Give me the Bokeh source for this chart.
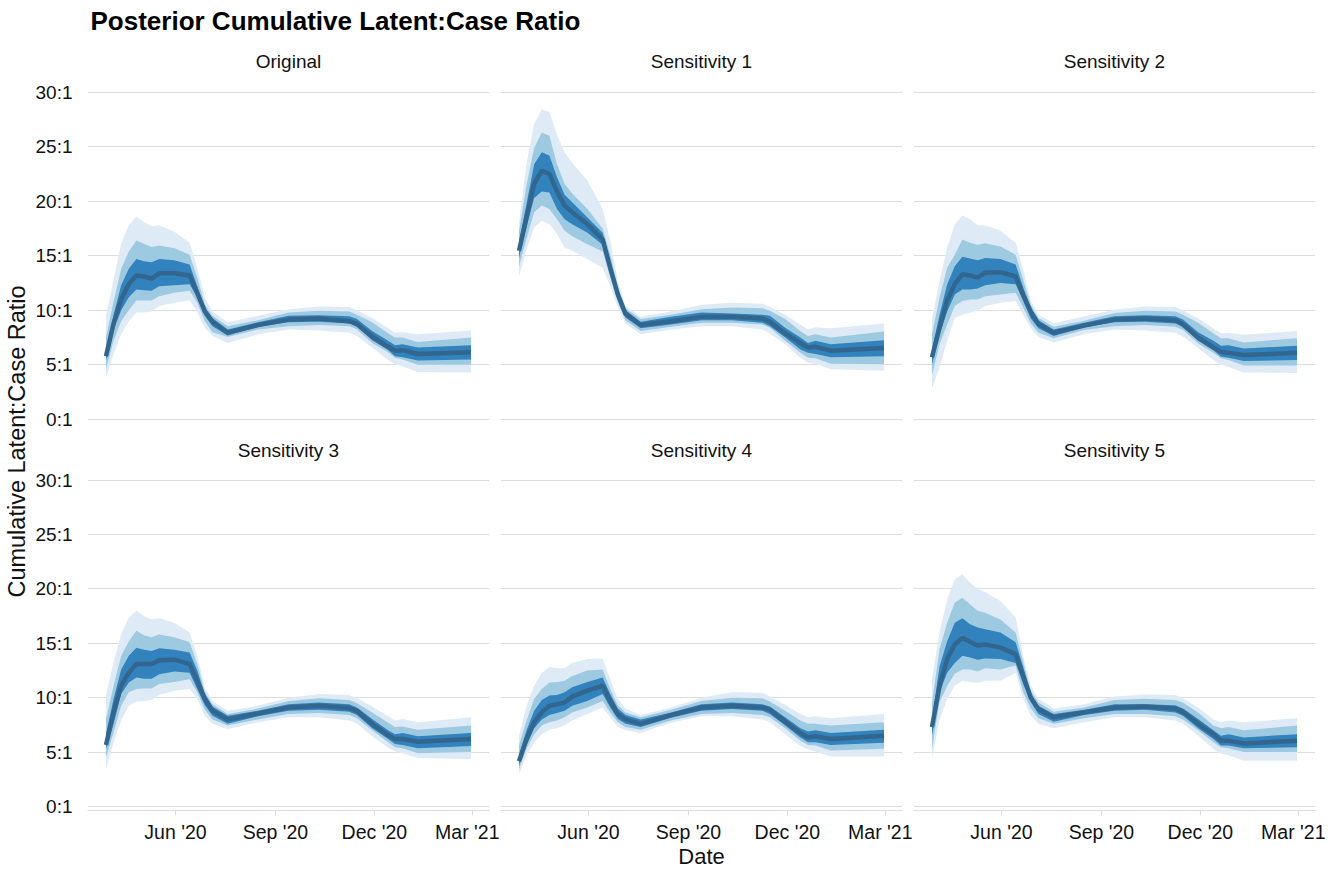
import numpy as np
import pandas as pd
from bokeh.plotting import figure
from bokeh.layouts import row, column
from bokeh.models import Range1d, FixedTicker, Grid, ColumnDataSource, CustomJSTickFormatter
from bokeh.core.properties import value
from bokeh.embed import file_html
from bokeh.resources import INLINE

FONT = "Liberation Sans"

# ---------------- data ----------------
title_text = "Posterior Cumulative Latent:Case Ratio"
y_title = "Cumulative Latent:Case Ratio"
x_title = "Date"
panel_titles = ["Original", "Sensitivity 1", "Sensitivity 2",
                "Sensitivity 3", "Sensitivity 4", "Sensitivity 5"]

dates = ["2020-03-29", "2020-04-05", "2020-04-12", "2020-04-19", "2020-04-26",
         "2020-05-03", "2020-05-10", "2020-05-17", "2020-05-31", "2020-06-14",
         "2020-06-21", "2020-06-28", "2020-07-05", "2020-07-19", "2020-08-16",
         "2020-09-13", "2020-10-11", "2020-11-08", "2020-11-15", "2020-11-29",
         "2020-12-13", "2020-12-20", "2020-12-27", "2021-01-10", "2021-02-28"]

x_ticks = ["2020-06-01", "2020-09-01", "2020-12-01", "2021-03-01"]
x_tick_labels = ["Jun '20", "Sep '20", "Dec '20", "Mar '21"]
y_ticks = [0, 5, 10, 15, 20, 25, 30]
y_tick_labels = ["0:1", "5:1", "10:1", "15:1", "20:1", "25:1", "30:1"]

# Original
orig_med    = [5.8, 8.8, 11.0, 12.4, 13.2, 13.1, 12.9, 13.4, 13.4, 13.2, 11.6, 9.9, 8.95, 7.95, 8.65, 9.15, 9.25, 9.0, 8.75, 7.6, 6.7, 6.3, 6.35, 6.0, 6.15]
orig_in_lo  = [5.4, 8.2, 10.0, 11.2, 11.9, 11.85, 11.8, 12.2, 12.3, 12.4, 11.2, 9.5, 8.55, 7.7, 8.5, 8.9, 8.95, 8.8, 8.5, 7.25, 6.4, 5.8, 5.7, 5.4, 5.5]
orig_in_hi  = [6.3, 9.6, 12.3, 13.8, 14.7, 14.5, 14.4, 14.7, 14.6, 14.2, 12.2, 10.2, 9.3, 8.25, 8.9, 9.5, 9.55, 9.45, 9.2, 8.1, 7.25, 6.8, 6.9, 6.6, 6.8]
orig_mid_lo = [4.6, 7.2, 9.0, 10.0, 10.9, 10.9, 10.9, 11.3, 11.6, 11.8, 10.7, 9.0, 8.0, 7.55, 8.25, 8.55, 8.65, 8.55, 8.25, 7.0, 6.2, 5.65, 5.5, 5.0, 5.0]
orig_mid_hi = [7.5, 10.8, 13.8, 15.4, 16.4, 16.1, 15.8, 15.95, 15.7, 15.1, 13.0, 10.55, 9.5, 8.55, 9.1, 9.8, 9.95, 9.9, 9.6, 8.9, 7.95, 7.5, 7.5, 7.1, 7.5]
orig_lt_lo  = [3.8, 6.0, 7.8, 9.0, 9.8, 9.8, 9.9, 10.4, 10.7, 10.9, 9.9, 8.4, 7.65, 7.0, 7.8, 8.25, 8.15, 7.95, 7.65, 6.6, 5.5, 5.05, 4.85, 4.35, 4.3]
orig_lt_hi  = [9.5, 12.8, 16.1, 17.8, 18.6, 18.1, 17.7, 17.8, 17.2, 16.2, 13.9, 11.2, 9.9, 8.9, 9.5, 10.1, 10.35, 10.3, 10.0, 9.3, 8.4, 7.95, 8.0, 7.8, 8.15]

# Sensitivity 1
s1_med    = [15.45, 18.5, 21.6, 22.8, 22.5, 20.9, 19.6, 19.0, 17.9, 16.5, 13.9, 11.45, 9.7, 8.65, 9.0, 9.4, 9.4, 9.25, 8.95, 7.9, 7.0, 6.6, 6.65, 6.3, 6.55]
s1_in_lo  = [14.8, 17.7, 20.3, 20.9, 20.8, 19.3, 18.35, 17.9, 17.1, 16.0, 13.45, 11.0, 9.35, 8.35, 8.7, 9.1, 9.1, 8.85, 8.55, 7.5, 6.4, 6.1, 6.0, 5.7, 5.8]
s1_in_hi  = [16.3, 19.8, 23.4, 24.5, 24.2, 22.2, 20.6, 19.9, 18.5, 17.1, 14.5, 11.9, 10.0, 8.95, 9.4, 9.8, 9.7, 9.6, 9.5, 8.4, 7.5, 7.0, 7.2, 6.9, 7.25]
s1_mid_lo = [14.0, 16.6, 19.0, 19.6, 19.3, 18.35, 17.3, 16.8, 16.05, 15.4, 13.0, 10.7, 9.1, 8.1, 8.5, 8.85, 8.85, 8.7, 8.4, 7.2, 6.1, 5.65, 5.6, 5.1, 5.05]
s1_mid_hi = [17.2, 21.5, 24.9, 26.3, 26.0, 23.4, 21.6, 20.7, 19.3, 17.5, 15.1, 12.2, 10.2, 9.2, 9.6, 10.1, 10.25, 10.2, 9.95, 9.2, 8.1, 7.65, 7.8, 7.5, 8.05]
s1_lt_lo  = [13.1, 15.6, 17.6, 18.2, 17.9, 17.0, 15.75, 15.45, 14.7, 13.9, 12.2, 10.25, 8.8, 7.8, 8.25, 8.55, 8.55, 8.25, 7.85, 6.9, 5.65, 5.2, 5.1, 4.6, 4.45]
s1_lt_hi  = [18.0, 23.5, 27.1, 28.4, 28.2, 26.1, 24.5, 23.5, 21.9, 19.3, 16.4, 12.7, 10.4, 9.4, 9.9, 10.5, 10.7, 10.6, 10.3, 9.6, 8.7, 8.25, 8.45, 8.35, 8.8]

# Sensitivity 2
s2_med    = [5.7, 8.4, 10.9, 12.4, 13.3, 13.2, 13.0, 13.45, 13.5, 13.1, 11.4, 9.85, 8.75, 7.95, 8.6, 9.15, 9.25, 9.1, 8.7, 7.5, 6.6, 6.2, 6.1, 5.9, 6.1]
s2_in_lo  = [5.0, 7.8, 9.9, 11.45, 11.9, 11.9, 12.0, 12.3, 12.5, 12.4, 10.85, 9.25, 8.35, 7.65, 8.45, 8.9, 8.95, 8.8, 8.5, 7.2, 6.35, 5.75, 5.65, 5.35, 5.45]
s2_in_hi  = [6.4, 9.6, 12.4, 14.05, 14.9, 14.75, 14.6, 14.8, 14.7, 14.2, 12.1, 10.2, 9.1, 8.25, 8.85, 9.45, 9.55, 9.45, 9.15, 8.0, 7.2, 6.75, 6.8, 6.5, 6.75]
s2_mid_lo = [4.0, 6.9, 8.7, 10.4, 10.85, 11.0, 11.0, 11.3, 11.45, 11.6, 10.25, 8.8, 7.95, 7.45, 8.2, 8.55, 8.65, 8.5, 8.2, 6.95, 6.1, 5.6, 5.45, 4.95, 4.95]
s2_mid_hi = [7.8, 11.2, 13.9, 15.1, 16.5, 16.2, 16.0, 16.15, 15.85, 15.1, 12.8, 10.5, 9.3, 8.5, 9.05, 9.75, 9.95, 9.9, 9.6, 8.85, 7.9, 7.45, 7.45, 7.05, 7.45]
s2_lt_lo  = [2.8, 4.75, 7.2, 9.3, 9.6, 9.8, 9.95, 10.4, 10.7, 10.85, 9.6, 8.35, 7.55, 7.05, 7.8, 8.25, 8.15, 7.95, 7.6, 6.55, 5.45, 5.0, 4.8, 4.3, 4.25]
s2_lt_hi  = [9.2, 12.7, 15.75, 17.9, 18.7, 18.35, 17.8, 17.8, 17.3, 16.2, 13.75, 10.85, 9.6, 8.8, 9.45, 10.05, 10.35, 10.3, 10.0, 9.25, 8.35, 7.9, 7.95, 7.75, 8.1]

# Sensitivity 3
s3_med    = [5.65, 8.65, 11.1, 12.3, 13.1, 13.1, 13.1, 13.45, 13.5, 13.1, 11.55, 9.9, 8.8, 8.0, 8.55, 9.1, 9.25, 9.05, 8.8, 7.6, 6.6, 6.2, 6.2, 5.95, 6.2]
s3_in_lo  = [5.3, 7.6, 10.35, 11.4, 11.85, 11.75, 11.75, 12.15, 12.4, 12.3, 10.8, 9.3, 8.35, 7.6, 8.3, 8.8, 8.9, 8.7, 8.4, 7.2, 6.25, 5.75, 5.65, 5.35, 5.55]
s3_in_hi  = [6.65, 9.9, 12.6, 13.85, 14.6, 14.4, 14.3, 14.55, 14.4, 14.15, 12.5, 10.35, 9.2, 8.35, 8.8, 9.4, 9.55, 9.4, 9.1, 8.05, 7.05, 6.65, 6.75, 6.45, 6.75]
s3_mid_lo = [4.5, 6.8, 9.25, 10.5, 10.8, 10.85, 10.85, 11.25, 11.45, 11.7, 10.5, 8.9, 8.0, 7.45, 8.0, 8.5, 8.6, 8.4, 8.1, 7.0, 5.95, 5.45, 5.35, 4.9, 5.0]
s3_mid_hi = [8.0, 11.1, 13.85, 15.2, 16.15, 15.75, 15.55, 15.8, 15.55, 15.1, 13.1, 10.55, 9.4, 8.5, 9.0, 9.7, 9.95, 9.8, 9.5, 8.65, 7.75, 7.3, 7.35, 7.05, 7.45]
s3_lt_lo  = [3.45, 5.9, 7.9, 9.25, 9.65, 9.7, 9.8, 10.25, 10.65, 10.8, 9.9, 8.35, 7.6, 7.1, 7.75, 8.2, 8.2, 7.9, 7.6, 6.45, 5.45, 5.05, 4.9, 4.45, 4.35]
s3_lt_hi  = [10.2, 13.25, 15.85, 17.35, 18.0, 17.5, 17.2, 17.3, 16.9, 16.0, 13.85, 10.95, 9.7, 8.8, 9.25, 10.0, 10.35, 10.25, 9.95, 9.2, 8.35, 7.9, 8.05, 7.75, 8.2]

# Sensitivity 4
s4_med    = [4.15, 6.2, 7.75, 8.65, 9.25, 9.4, 9.55, 10.1, 10.65, 11.1, 9.7, 8.5, 8.0, 7.6, 8.4, 9.1, 9.25, 9.1, 8.9, 7.8, 6.75, 6.35, 6.45, 6.2, 6.5]
s4_in_lo  = [3.75, 5.65, 7.2, 8.0, 8.4, 8.6, 8.8, 9.25, 9.7, 10.35, 9.1, 8.05, 7.6, 7.3, 8.15, 8.8, 8.95, 8.8, 8.5, 7.45, 6.35, 5.9, 5.9, 5.65, 5.85]
s4_in_hi  = [4.7, 7.0, 8.8, 9.8, 10.2, 10.25, 10.5, 10.95, 11.45, 11.85, 10.35, 9.0, 8.4, 8.0, 8.65, 9.4, 9.55, 9.4, 9.2, 8.2, 7.2, 6.9, 7.0, 6.75, 7.05]
s4_mid_lo = [3.45, 5.3, 6.65, 7.45, 7.75, 7.9, 8.2, 8.65, 9.1, 9.7, 8.65, 7.75, 7.3, 7.05, 7.9, 8.5, 8.6, 8.4, 8.2, 7.2, 6.05, 5.65, 5.6, 5.15, 5.3]
s4_mid_hi = [5.6, 7.9, 9.9, 10.8, 11.4, 11.45, 11.55, 12.0, 12.5, 12.6, 10.8, 9.3, 8.65, 8.2, 8.9, 9.7, 10.0, 9.95, 9.65, 8.8, 7.9, 7.6, 7.6, 7.45, 7.75]
s4_lt_lo  = [3.0, 4.7, 5.9, 6.65, 7.05, 7.2, 7.45, 7.9, 8.5, 9.1, 8.2, 7.3, 7.0, 6.75, 7.7, 8.3, 8.3, 8.0, 7.75, 6.65, 5.55, 5.25, 5.05, 4.6, 4.6]
s4_lt_hi  = [6.5, 9.25, 11.1, 12.3, 12.8, 12.7, 12.7, 13.2, 13.55, 13.6, 11.7, 9.9, 9.0, 8.4, 9.1, 10.0, 10.5, 10.45, 10.1, 9.35, 8.5, 8.2, 8.3, 8.1, 8.5]

# Sensitivity 5
s5_med    = [7.3, 11.1, 13.55, 14.9, 15.5, 15.15, 14.8, 14.9, 14.6, 14.0, 12.0, 10.0, 8.95, 8.2, 8.65, 9.1, 9.2, 9.0, 8.7, 7.6, 6.65, 6.05, 6.05, 5.8, 6.05]
s5_in_lo  = [6.5, 10.5, 12.3, 13.2, 13.85, 13.7, 13.5, 13.6, 13.55, 13.2, 11.25, 9.6, 8.5, 7.8, 8.4, 8.8, 8.9, 8.65, 8.35, 7.2, 6.2, 5.6, 5.6, 5.35, 5.45]
s5_in_hi  = [8.0, 12.9, 15.2, 16.9, 17.3, 16.75, 16.45, 16.3, 16.0, 15.1, 12.8, 10.35, 9.25, 8.5, 8.9, 9.4, 9.4, 9.3, 9.0, 8.05, 7.0, 6.5, 6.65, 6.35, 6.65]
s5_mid_lo = [5.3, 9.6, 11.1, 12.2, 12.6, 12.6, 12.4, 12.7, 12.6, 12.95, 10.5, 9.0, 8.1, 7.6, 8.1, 8.5, 8.5, 8.3, 8.0, 7.0, 5.9, 5.45, 5.35, 5.0, 5.0]
s5_mid_hi = [9.5, 14.5, 16.9, 18.75, 19.2, 18.6, 18.0, 17.8, 17.2, 16.0, 13.25, 10.65, 9.55, 8.7, 9.1, 9.8, 9.9, 9.8, 9.55, 8.65, 7.45, 7.2, 7.3, 7.0, 7.45]
s5_lt_lo  = [4.4, 8.0, 9.9, 11.1, 11.55, 11.45, 11.35, 11.55, 11.55, 12.3, 9.9, 8.35, 7.6, 7.2, 7.75, 8.2, 8.2, 7.9, 7.6, 6.5, 5.3, 4.85, 4.7, 4.2, 4.2]
s5_lt_hi  = [11.7, 16.0, 19.05, 20.9, 21.35, 20.6, 20.0, 19.7, 18.9, 17.4, 13.85, 11.1, 9.9, 9.0, 9.4, 10.1, 10.3, 10.25, 9.95, 9.1, 8.0, 7.75, 7.9, 7.75, 8.1]

# ---------------- styling ----------------
LIGHT = "#deebf7"
MID = "#9ecae1"
DARK = "#3182bd"
LINE = "#33668f"
GRID = "#dddddd"
TXT = "#111111"

x_start = pd.Timestamp("2020-03-12")
x_end = pd.Timestamp("2021-03-17")
Y_TOP = 30.06
Y_BOT = [-0.1, -0.37]
FRAME_H = [329, 332]

series = [
    (orig_med, orig_in_lo, orig_in_hi, orig_mid_lo, orig_mid_hi, orig_lt_lo, orig_lt_hi),
    (s1_med, s1_in_lo, s1_in_hi, s1_mid_lo, s1_mid_hi, s1_lt_lo, s1_lt_hi),
    (s2_med, s2_in_lo, s2_in_hi, s2_mid_lo, s2_mid_hi, s2_lt_lo, s2_lt_hi),
    (s3_med, s3_in_lo, s3_in_hi, s3_mid_lo, s3_mid_hi, s3_lt_lo, s3_lt_hi),
    (s4_med, s4_in_lo, s4_in_hi, s4_mid_lo, s4_mid_hi, s4_lt_lo, s4_lt_hi),
    (s5_med, s5_in_lo, s5_in_hi, s5_mid_lo, s5_mid_hi, s5_lt_lo, s5_lt_hi),
]

x_dates = pd.to_datetime(dates)
x_tick_ms = [float(pd.Timestamp(t).value // 10**6) for t in x_ticks]

# layout sizes (pixels)
FRAME_W = 402
PAD = 12                 # room above/below each frame for the end tick labels
TOPS = [PAD, PAD]
BOTTOM = [PAD, 34]
LEFTS = [55, 1, 1]
RIGHTS = [10, 10, 10]
YL_W = 32
TITLE_H = 41
STRIP_H = [50 - PAD, 59 - 2 * PAD]
XLAB_H = 24

LABEL_JS = "const i = tvals.indexOf(tick); return i >= 0 ? tlabels[i] : '';"


def make_panel(i):
    r, c = divmod(i, 3)
    med, in_lo, in_hi, mid_lo, mid_hi, lt_lo, lt_hi = series[i]
    w = LEFTS[c] + FRAME_W + RIGHTS[c]
    h = TOPS[r] + FRAME_H[r] + BOTTOM[r]
    p = figure(width=w, height=h, x_axis_type="datetime",
               x_range=Range1d(x_start, x_end), y_range=Range1d(Y_BOT[r], Y_TOP),
               x_axis_location="below" if r == 1 else None,
               y_axis_location="left" if c == 0 else None,
               toolbar_location=None, output_backend="svg",
               min_border_left=LEFTS[c], min_border_right=RIGHTS[c],
               min_border_top=TOPS[r], min_border_bottom=BOTTOM[r])
    p.outline_line_color = None
    p.background_fill_color = "white"
    p.border_fill_color = "white"
    for g in list(p.grid):
        g.visible = False
    p.add_layout(Grid(dimension=1, ticker=FixedTicker(ticks=y_ticks),
                      grid_line_color=GRID, grid_line_width=1.2))

    src = ColumnDataSource(dict(x=x_dates, med=med, in_lo=in_lo, in_hi=in_hi,
                                mid_lo=mid_lo, mid_hi=mid_hi, lt_lo=lt_lo, lt_hi=lt_hi))
    p.varea(x="x", y1="lt_lo", y2="lt_hi", source=src, fill_color=LIGHT)
    p.varea(x="x", y1="mid_lo", y2="mid_hi", source=src, fill_color=MID)
    p.varea(x="x", y1="in_lo", y2="in_hi", source=src, fill_color=DARK)
    p.line(x="x", y="med", source=src, line_color=LINE, line_width=4.5)

    if c == 0:
        ax = p.yaxis[0]
        ax.ticker = FixedTicker(ticks=y_ticks)
        ax.formatter = CustomJSTickFormatter(
            args=dict(tvals=y_ticks, tlabels=y_tick_labels), code=LABEL_JS)
        ax.axis_line_color = None
        ax.major_tick_line_color = None
        ax.minor_tick_line_color = None
        ax.major_label_text_font = FONT
        ax.major_label_text_font_size = "19px"
        ax.major_label_text_color = TXT
        ax.major_label_standoff = 9
    if r == 1:
        ax = p.xaxis[0]
        ax.ticker = FixedTicker(ticks=x_tick_ms)
        ax.formatter = CustomJSTickFormatter(
            args=dict(tvals=x_tick_ms, tlabels=x_tick_labels), code=LABEL_JS)
        ax.axis_line_color = GRID
        ax.axis_line_width = 1.2
        ax.major_tick_line_color = GRID
        ax.major_tick_out = 5
        ax.major_tick_in = 0
        ax.minor_tick_line_color = None
        ax.major_label_text_font = FONT
        ax.major_label_text_font_size = "19.5px"
        ax.major_label_text_color = TXT
        ax.major_label_standoff = 5
    return p


def blank(w, h):
    q = figure(width=w, height=h, x_range=Range1d(0, w), y_range=Range1d(0, h),
               x_axis_location=None, y_axis_location=None, toolbar_location=None,
               output_backend="svg", min_border=0)
    q.outline_line_color = None
    for g in list(q.grid):
        g.visible = False
    return q


panels = [make_panel(i) for i in range(6)]
grid_w = sum(p.width for p in panels[:3])

# centres of the three plot frames, relative to the panel row
centres = []
acc = 0
for c in range(3):
    centres.append(acc + LEFTS[c] + FRAME_W / 2)
    acc += LEFTS[c] + FRAME_W + RIGHTS[c]

# panel titles: page y 61 and 450
strip_top = [TITLE_H, TITLE_H + STRIP_H[0] + panels[0].height]
title_y = [61, 450]
strips = []
for r in range(2):
    s = blank(grid_w, STRIP_H[r])
    s.text(x=centres, y=[STRIP_H[r] - (title_y[r] - strip_top[r])] * 3,
           text=panel_titles[3 * r:3 * r + 3], text_font=value(FONT),
           text_font_size=value("19px"), text_color=TXT,
           text_align="center", text_baseline="middle")
    strips.append(s)

xlab = blank(grid_w, XLAB_H)
xlab.text(x=[centres[1]], y=[XLAB_H - 11], text=[x_title], text_font=value(FONT),
          text_font_size=value("22px"), text_color=TXT,
          text_align="center", text_baseline="middle")

total_w = YL_W + grid_w
tfig = blank(total_w, TITLE_H)
tfig.text(x=[90], y=[TITLE_H - 20], text=[title_text], text_font=value(FONT),
          text_font_size=value("26px"), text_font_style="bold", text_color="#000000",
          text_align="left", text_baseline="middle")

body_h = STRIP_H[0] + panels[0].height + STRIP_H[1] + panels[3].height + XLAB_H
yfig = blank(YL_W, body_h)
yfig.text(x=[16], y=[body_h - (441 - TITLE_H)], text=[y_title], text_font=value(FONT),
          text_font_size=value("23.5px"), text_color=TXT, angle=np.pi / 2,
          text_align="center", text_baseline="middle")

layout = column(tfig, row(yfig, column(strips[0], row(*panels[:3]),
                                       strips[1], row(*panels[3:]), xlab)))

open("out.html", "w").write(file_html(layout, INLINE))
